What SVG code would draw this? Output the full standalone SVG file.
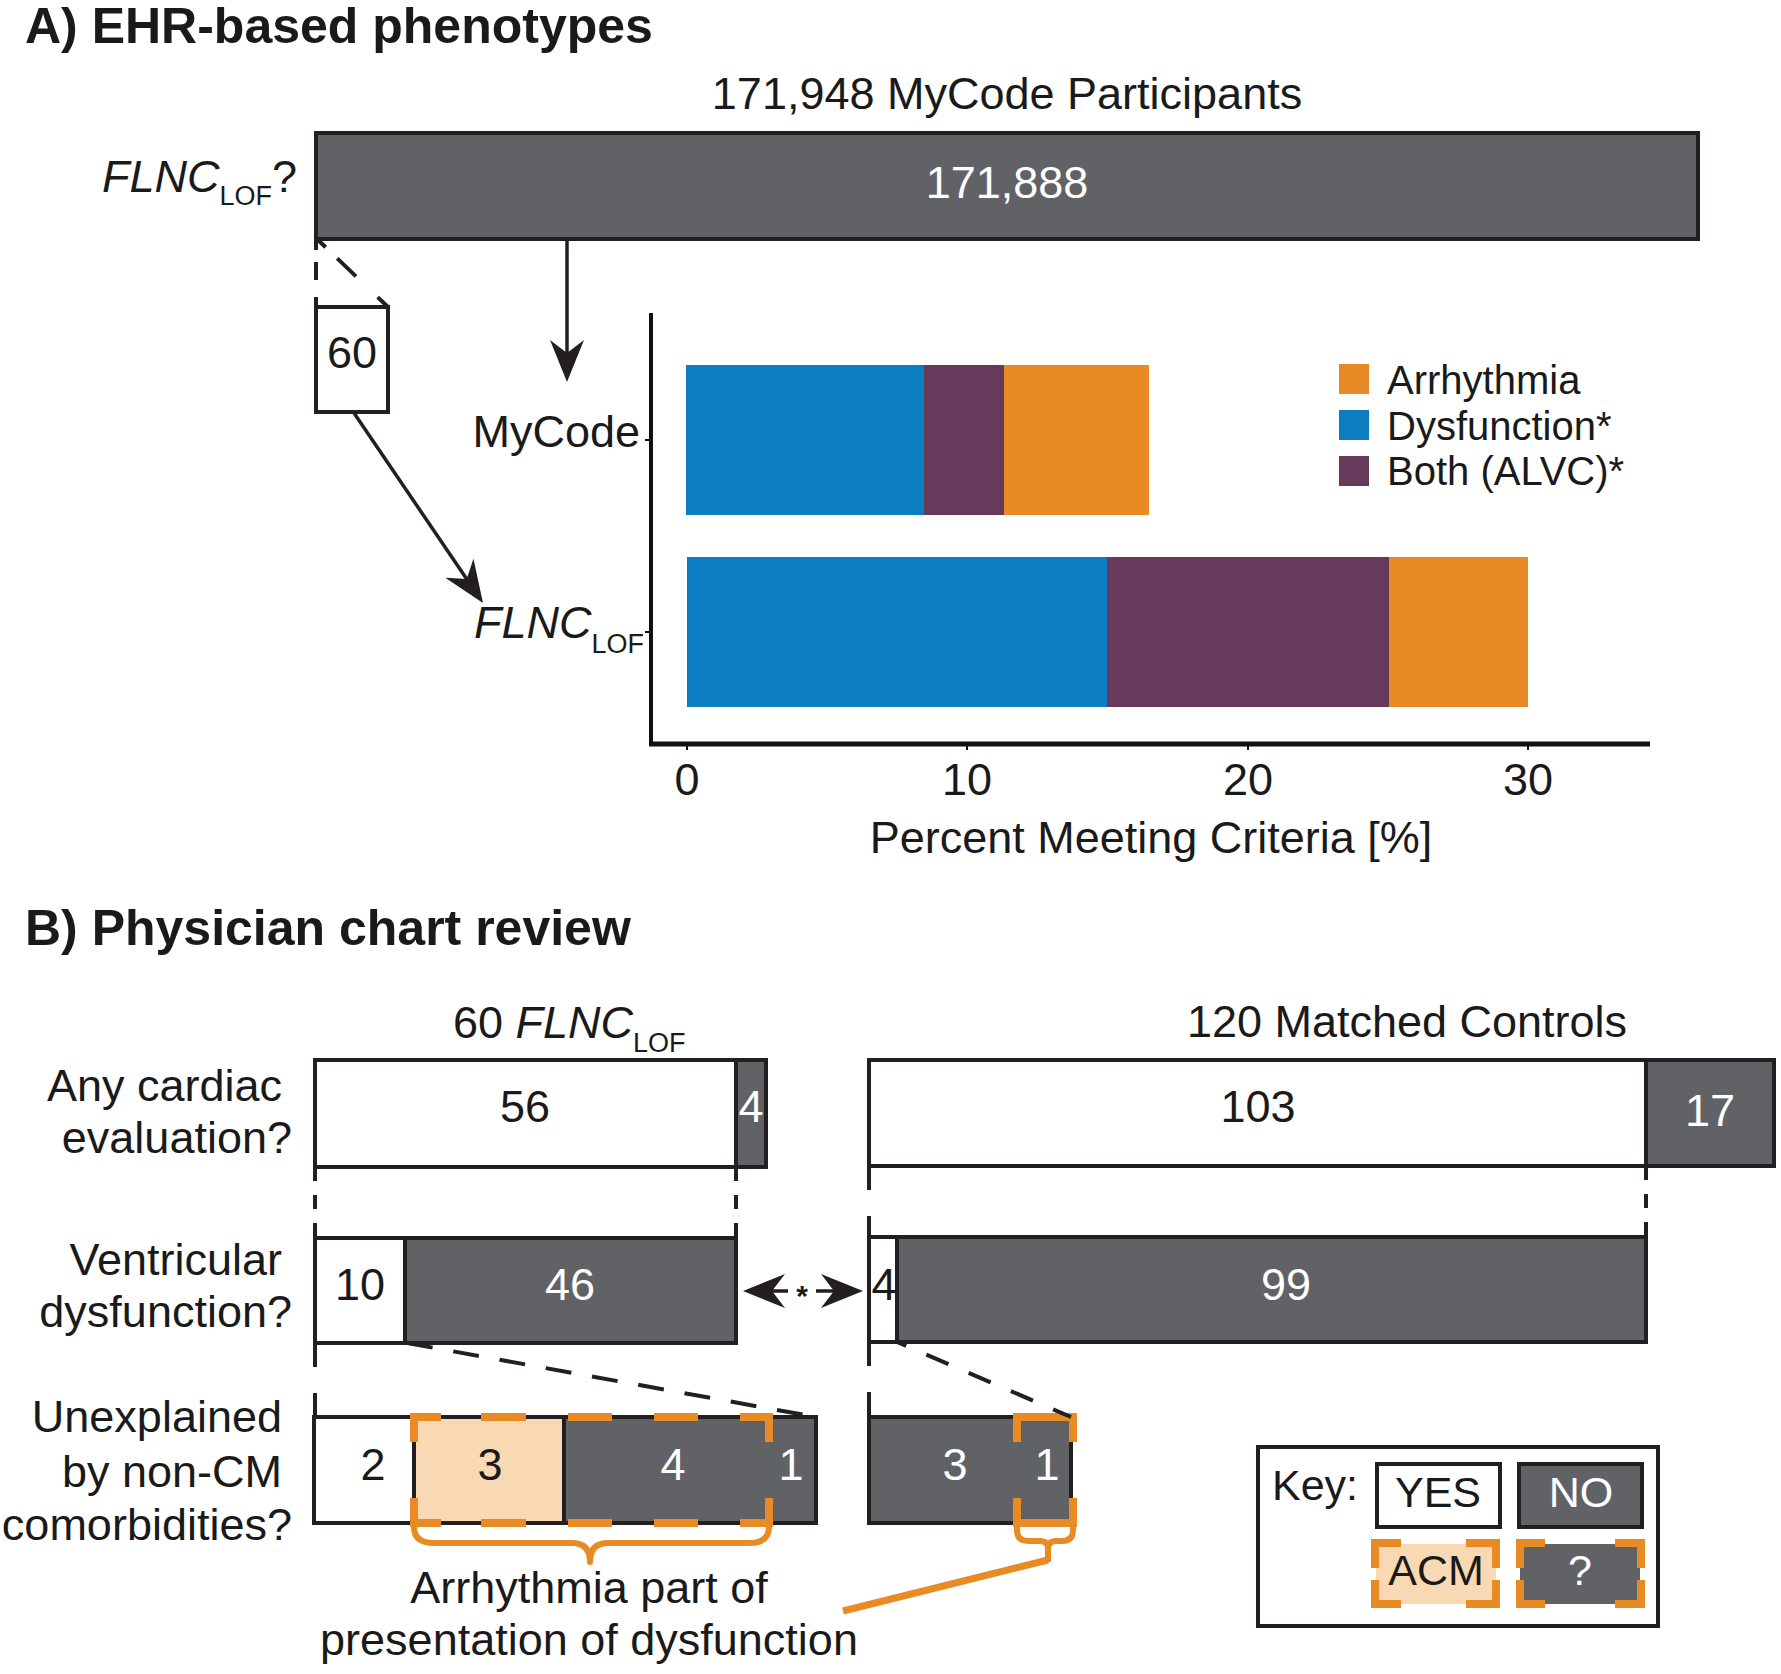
<svg xmlns="http://www.w3.org/2000/svg" width="1781" height="1674" viewBox="0 0 1781 1674">
<defs>
<style>
text{font-family:"Liberation Sans",Arial,Helvetica,sans-serif;fill:#1a1a1a;font-size:45px}
.title{font-size:50px;font-weight:bold}
.w{fill:#fff}
.sub{font-size:27px}
.it{font-style:italic}
.mid{text-anchor:middle}
.end{text-anchor:end}
.lg{font-size:40px}
.k{font-size:43px}
.box{stroke:#231f20;stroke-width:4}
.dark{fill:#616266}
.white{fill:#fff}
.acm{fill:#f8d9b4}
.dash{fill:none;stroke:#231f20;stroke-width:4}
.orng{fill:none;stroke:#e98b24;stroke-width:8}
.brace{fill:none;stroke:#e98b24;stroke-width:6;stroke-linejoin:round}
.arrow{stroke:#231f20;stroke-width:3.5;fill:none}
.axis{stroke:#111;fill:none}
</style>
<marker id="ah" viewBox="0 0 42 34" refX="13" refY="17" markerWidth="42" markerHeight="34" markerUnits="userSpaceOnUse" orient="auto"><path d="M0,0 L42,17 L0,34 L13,17 Z" fill="#231f20"/></marker>
</defs>
<rect width="1781" height="1674" fill="#fff"/>

<!-- Panel A -->
<text id="titleA" class="title" x="25" y="43">A) EHR-based phenotypes</text>
<text id="hdrA" class="mid" x="1007" y="109">171,948 MyCode Participants</text>
<text id="lblFLNCq" x="102" y="192"><tspan class="it">FLNC</tspan><tspan class="sub" dy="13">LOF</tspan><tspan dy="-13">?</tspan></text>

<g id="bar-all">
<rect class="box dark" x="316" y="133" width="1382" height="106"/>
<text class="mid w" x="1007" y="198">171,888</text>
</g>

<g id="box-60">
<rect class="box white" x="316" y="307" width="72" height="105"/>
<text class="mid" x="352" y="368">60</text>
</g>

<g id="chart">
<line class="axis" x1="651" y1="313" x2="651" y2="746" stroke-width="4"/>
<line class="axis" x1="649" y1="744" x2="1650" y2="744" stroke-width="5"/>
<g class="axis" stroke-width="2">
<line x1="645" y1="440" x2="651" y2="440"/>
<line x1="645" y1="632" x2="651" y2="632"/>
<line x1="687" y1="744" x2="687" y2="750"/>
<line x1="967" y1="744" x2="967" y2="750"/>
<line x1="1248" y1="744" x2="1248" y2="750"/>
<line x1="1528" y1="744" x2="1528" y2="750"/>
</g>
<rect x="686" y="365" width="238" height="150" fill="#0d7dc2"/>
<rect x="924" y="365" width="80" height="150" fill="#673a5c"/>
<rect x="1004" y="365" width="145" height="150" fill="#e98b24"/>
<rect x="687" y="557" width="420" height="150" fill="#0d7dc2"/>
<rect x="1107" y="557" width="282" height="150" fill="#673a5c"/>
<rect x="1389" y="557" width="139" height="150" fill="#e98b24"/>
<text class="end" x="640" y="447">MyCode</text>
<text x="474" y="638"><tspan class="it">FLNC</tspan><tspan class="sub" dy="15">LOF</tspan></text>
<text class="mid" x="687" y="795">0</text>
<text class="mid" x="967" y="795">10</text>
<text class="mid" x="1248" y="795">20</text>
<text class="mid" x="1528" y="795">30</text>
<text class="mid" x="1151" y="853">Percent Meeting Criteria [%]</text>
</g>

<g id="legend">
<rect x="1339" y="364" width="30" height="30" fill="#e98b24"/>
<rect x="1339" y="410" width="30" height="30" fill="#0d7dc2"/>
<rect x="1339" y="456" width="30" height="30" fill="#673a5c"/>
<text class="lg" x="1387" y="394">Arrhythmia</text>
<text class="lg" x="1387" y="440">Dysfunction*</text>
<text class="lg" x="1387" y="485">Both (ALVC)*</text>
</g>

<!-- Panel B -->
<text id="titleB" class="title" x="25" y="945">B) Physician chart review</text>
<text id="hdrFLNC" x="453" y="1038">60 <tspan class="it">FLNC</tspan><tspan class="sub" dy="14">LOF</tspan></text>
<text id="hdrCtrl" class="mid" x="1407" y="1037">120 Matched Controls</text>

<g id="row-labels">
<text class="end" x="282" y="1101">Any cardiac</text>
<text class="end" x="292" y="1153">evaluation?</text>
<text class="end" x="282" y="1275">Ventricular</text>
<text class="end" x="292" y="1327">dysfunction?</text>
<text class="end" x="282" y="1432">Unexplained</text>
<text class="end" x="282" y="1487">by non-CM</text>
<text class="end" x="292" y="1540">comorbidities?</text>
</g>

<g id="row1-flnc">
<rect class="box white" x="315" y="1060" width="421" height="107"/>
<rect class="box dark" x="736" y="1060" width="30" height="107"/>
<text class="mid" x="525" y="1122">56</text>
<text class="mid w" x="751" y="1122">4</text>
</g>
<g id="row1-ctrl">
<rect class="box white" x="869" y="1060" width="777" height="106"/>
<rect class="box dark" x="1646" y="1060" width="128" height="106"/>
<text class="mid" x="1258" y="1122">103</text>
<text class="mid w" x="1710" y="1126">17</text>
</g>

<g id="row2-flnc">
<rect class="box white" x="315" y="1238" width="90" height="105"/>
<rect class="box dark" x="405" y="1238" width="331" height="105"/>
<text class="mid" x="360" y="1300">10</text>
<text class="mid w" x="570" y="1300">46</text>
</g>
<g id="row2-ctrl">
<rect class="box white" x="869" y="1237" width="28" height="105"/>
<rect class="box dark" x="897" y="1237" width="749" height="105"/>
<text class="mid" x="884" y="1300">4</text>
<text class="mid w" x="1286" y="1300">99</text>
</g>

<g id="row3-flnc">
<rect class="box white" x="314" y="1417" width="100" height="106"/>
<rect class="box acm" x="414" y="1417" width="150" height="106"/>
<rect class="box dark" x="564" y="1417" width="252" height="106"/>
<path class="orng" d="M414,1442 V1417 H441 M481,1417 H526 M568,1417 H612 M654,1417 H698 M740,1417 H769 V1442 M414,1498 V1523 H441 M481,1523 H526 M568,1523 H612 M654,1523 H698 M740,1523 H769 V1498"/>
<text class="mid" x="373" y="1480">2</text>
<text class="mid" x="490" y="1480">3</text>
<text class="mid w" x="673" y="1480">4</text>
<text class="mid w" x="791" y="1480">1</text>
</g>
<g id="row3-ctrl">
<rect class="box dark" x="869" y="1417" width="202" height="106"/>
<path class="orng" d="M1017,1442 V1417 H1073 V1442 M1017,1498 V1523 H1073 V1498"/>
<text class="mid w" x="955" y="1480">3</text>
<text class="mid w" x="1047" y="1480">1</text>
</g>

<g id="connectors">
<line class="arrow" x1="567" y1="239" x2="567" y2="353" marker-end="url(#ah)"/>
<line class="arrow" x1="354" y1="413" x2="466.7" y2="579" marker-end="url(#ah)"/>
<line class="dash" x1="316" y1="240" x2="316" y2="307" stroke-dasharray="10 12 18 17 10" stroke-width="3.5"/>
<line class="dash" x1="317" y1="239" x2="388" y2="307" stroke-dasharray="12 16 26 30 15" stroke-width="3.5"/>
<line class="dash" x1="315" y1="1167" x2="315" y2="1238" stroke-dasharray="14 14"/>
<line class="dash" x1="736" y1="1167" x2="736" y2="1238" stroke-dasharray="14 14"/>
<line class="dash" x1="869" y1="1166" x2="869" y2="1237" stroke-dasharray="24 26 25"/>
<line class="dash" x1="1646" y1="1166" x2="1646" y2="1237" stroke-dasharray="14 14"/>
<line class="dash" x1="315" y1="1343" x2="315" y2="1417" stroke-dasharray="24 26 25"/>
<line class="dash" x1="407" y1="1343" x2="816" y2="1417" stroke-dasharray="26 21"/>
<line class="dash" x1="869" y1="1342" x2="869" y2="1417" stroke-dasharray="24 26 25"/>
<line class="dash" x1="897" y1="1342" x2="1071" y2="1417" stroke-dasharray="10 22 24 22 24 22 24 22 24"/>
<line class="arrow" x1="788" y1="1291" x2="772" y2="1291" stroke-width="4" marker-end="url(#ah)"/>
<line class="arrow" x1="816" y1="1291" x2="834" y2="1291" stroke-width="4" marker-end="url(#ah)"/>
<text class="mid" x="802" y="1306" style="font-size:30px;font-weight:bold">*</text>
<path class="brace" d="M414,1522 V1527 Q414,1543 434,1543 H572 Q590,1543 590,1562 Q590,1543 608,1543 H749 Q769,1543 769,1527 V1522"/>
<path class="brace" d="M1017,1523 V1530 Q1017,1541 1028,1541 H1040 Q1048,1541 1048,1549 V1562 M1073,1523 V1530 Q1073,1541 1062,1541 H1056 Q1048,1541 1048,1549"/>
<line x1="1048" y1="1560" x2="843" y2="1611" stroke="#e98b24" stroke-width="7"/>
</g>

<g id="note">
<text class="mid" x="589" y="1603">Arrhythmia part of</text>
<text class="mid" x="589" y="1655">presentation of dysfunction</text>
</g>

<g id="key">
<rect x="1258" y="1447" width="400" height="179" fill="#fff" stroke="#231f20" stroke-width="4"/>
<text class="k" x="1272" y="1500">Key:</text>
<rect class="box white" x="1377" y="1464" width="123" height="63"/>
<text class="k mid" x="1438" y="1507">YES</text>
<rect class="box dark" x="1519" y="1464" width="123" height="63"/>
<text class="k mid w" x="1581" y="1507">NO</text>
<rect class="acm" x="1376" y="1544" width="120" height="60"/>
<path class="orng" d="M1375,1568 V1543 H1401 M1466,1543 H1496 V1568 M1375,1580 V1604 H1401 M1466,1604 H1496 V1580"/>
<text class="k mid" x="1436" y="1585">ACM</text>
<rect class="dark" x="1520" y="1544" width="120" height="60"/>
<path class="orng" d="M1520,1568 V1543 H1545 M1615,1543 H1641 V1568 M1520,1580 V1604 H1545 M1615,1604 H1641 V1580"/>
<text class="k mid w" x="1580" y="1585">?</text>
</g>
</svg>
